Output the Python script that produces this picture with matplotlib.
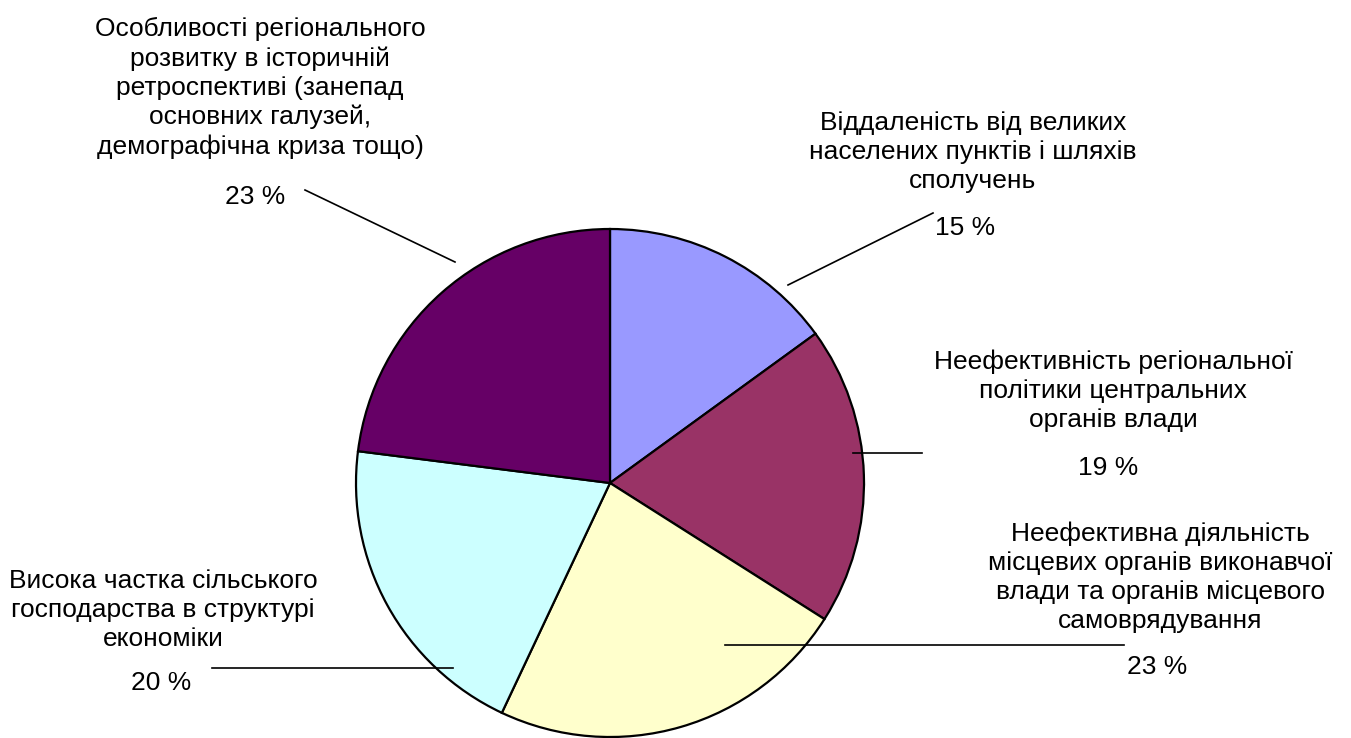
import matplotlib.pyplot as plt
from matplotlib.lines import Line2D

# slices, clockwise from 12 o'clock
names = [
    "Віддаленість від великих\nнаселених пунктів і шляхів\nсполучень",
    "Неефективність регіональної\nполітики центральних\nорганів влади",
    "Неефективна діяльність\nмісцевих органів виконавчої\nвлади та органів місцевого\nсамоврядування",
    "Висока частка сільського\nгосподарства в структурі\nекономіки",
    "Особливості регіонального\nрозвитку в історичній\nретроспективі (занепад\nосновних галузей,\nдемографічна криза тощо)",
]
shares = [15, 19, 23, 20, 23]
colors = ["#9999FF", "#993366", "#FFFFCC", "#CCFFFF", "#660066"]

# label layout in pixels (x, y from top)
name_pos = [(973, 152), (1113, 391), (1160, 577), (163, 610), (260, 88)]
pct_pos = [(965, 228), (1108, 468), (1157, 667), (161, 683), (255, 197)]
leaders = [((788, 285), (933, 213)),
           ((853, 453), (922, 453)),
           ((725, 645), (1124, 645)),
           ((212, 668), (453, 668)),
           ((305, 190), (455, 262))]

W, H = 1351, 738
CX, CY, R = 610, 483, 254


def fx(x):
    return x / W


def fy(y):
    return 1 - y / H


def main():
    plt.rcParams['font.family'] = ['Liberation Sans', 'DejaVu Sans']
    fig = plt.figure(figsize=(W / 100, H / 100), dpi=100)
    ax = fig.add_axes([fx(CX - R), fy(CY + R), 2 * R / W, 2 * R / H])

    wedges, _ = ax.pie(shares, colors=colors, startangle=90, counterclock=False,
                       wedgeprops=dict(edgecolor='black', linewidth=1.6))
    for w in wedges:
        w.set_clip_on(False)
    ax.set_xlim(-1, 1)
    ax.set_ylim(-1, 1)
    ax.axis('off')

    for i in range(len(shares)):
        fig.text(fx(name_pos[i][0]), fy(name_pos[i][1]), names[i],
                 ha='center', va='center', multialignment='center',
                 fontsize=19, linespacing=1.26)
        fig.text(fx(pct_pos[i][0]), fy(pct_pos[i][1]), f"{shares[i]} %",
                 ha='center', va='center', fontsize=19)
        (x0, y0), (x1, y1) = leaders[i]
        fig.add_artist(Line2D([fx(x0), fx(x1)], [fy(y0), fy(y1)],
                              color='black', linewidth=1.2))

    fig.savefig('out.png', dpi=100)


if __name__ == "__main__":
    main()
